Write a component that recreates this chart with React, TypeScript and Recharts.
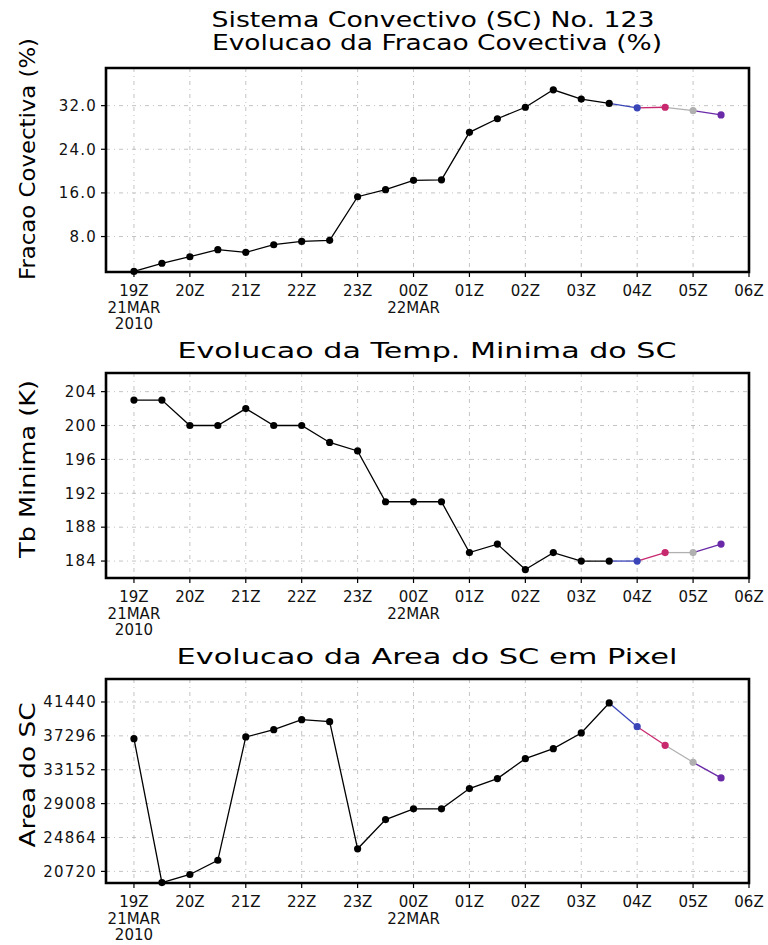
import React from 'react'
import { LineChart, Line, XAxis, YAxis, CartesianGrid, ReferenceArea } from 'recharts'

// horarios (UTC) de 21MAR 19Z ate 22MAR 05:30Z, em horas corridas
const hours = [19, 19.5, 20, 20.5, 21, 21.5, 22, 22.5, 23, 23.5, 24, 24.5, 25, 25.5, 26, 26.5, 27, 27.5, 28, 28.5, 29, 29.5]
const hourTicks = [19, 20, 21, 22, 23, 24, 25, 26, 27, 28, 29, 30]
const hourLabels = ['19Z', '20Z', '21Z', '22Z', '23Z', '00Z', '01Z', '02Z', '03Z', '04Z', '05Z', '06Z']
const dateLabels: Record<number, string[]> = { 19: ['21MAR', '2010'], 24: ['22MAR'] }

// series
const fracao = [1.6, 3.1, 4.3, 5.6, 5.1, 6.5, 7.1, 7.3, 15.3, 16.6, 18.3, 18.4, 27.1, 29.6, 31.7, 34.9, 33.2, 32.4, 31.6, 31.7, 31.1, 30.3]
const tbMinima = [203, 203, 200, 200, 202, 200, 200, 198, 197, 191, 191, 191, 185, 186, 183, 185, 184, 184, 184, 185, 185, 186]
const area = [36950, 19350, 20340, 22080, 37160, 38050, 39280, 39030, 23480, 27060, 28370, 28370, 30850, 32070, 34510, 35730, 37650, 41320, 38420, 36140, 34060, 32150]

// ultimos pontos (previsao) em cores
const FIRST_COLORED = 18
const pointColors = [
  '#000', '#000', '#000', '#000', '#000', '#000', '#000', '#000', '#000', '#000', '#000',
  '#000', '#000', '#000', '#000', '#000', '#000', '#000',
  '#3a45b8', '#c8286e', '#b0b0b0', '#6a2aa8',
]

const fracaoTicks = [8, 16, 24, 32]
const tbTicks = [184, 188, 192, 196, 200, 204]
const areaTicks = [20720, 24864, 29008, 33152, 37296, 41440]

const FONT = 'DejaVu Sans'
const W = 768
const H = 945

function buildRows(values: number[]) {
  return hours.map((h, i) => {
    const row: any = { h, v: values[i] }
    if (i < FIRST_COLORED) row.base = values[i]
    for (let k = FIRST_COLORED; k < hours.length; k++) {
      if (i === k || i === k - 1) row['s' + k] = values[i]
    }
    return row
  })
}

const XTick = ({ x, y, payload }: any) => {
  const i = hourTicks.indexOf(payload.value)
  const lines = [hourLabels[i], ...(dateLabels[payload.value] || [])]
  return (
    <g>
      {lines.map((t, j) => (
        <text key={j} x={x} y={y + 17 + j * 16.5} textAnchor="middle" fontSize={15} fontFamily={FONT} fill="#111">
          {t}
        </text>
      ))}
    </g>
  )
}

interface PanelProps {
  values: number[]
  domain: [number, number]
  ticks: number[]
  fmt: (v: number) => string
  top: number
  bottom: number
}

function Panel({ values, domain, ticks, fmt, top, bottom }: PanelProps) {
  const rows = buildRows(values)
  return (
    <div style={{ position: 'absolute', left: 0, top: 0 }}>
      <LineChart width={W} height={H} data={rows} margin={{ top, right: 19, left: 0, bottom: H - 60 - bottom }}>
        <CartesianGrid stroke="#b4b4b4" strokeDasharray="4 4 1 4" strokeWidth={0.8} />
        <XAxis
          dataKey="h"
          type="number"
          domain={[18.5, 30]}
          ticks={hourTicks}
          height={60}
          axisLine={false}
          tickLine={{ stroke: '#000', strokeWidth: 1.2 }}
          tickSize={5}
          tickMargin={2}
          tick={<XTick />}
          interval={0}
        />
        <YAxis
          type="number"
          domain={domain}
          ticks={ticks}
          width={106}
          axisLine={false}
          tickLine={{ stroke: '#000', strokeWidth: 1.2 }}
          tickSize={5}
          tickMargin={4}
          tickFormatter={fmt}
          tick={{ fontSize: 15, fontFamily: FONT, fill: '#111', letterSpacing: 1.2 }}
          interval={0}
        />
        <ReferenceArea x1={18.5} x2={30} y1={domain[0]} y2={domain[1]} fill="none" stroke="#000" strokeWidth={2.6} />
        <Line dataKey="base" stroke="#000" strokeWidth={1.3} dot={false} activeDot={false} isAnimationActive={false} />
        {hours.slice(FIRST_COLORED).map((_, j) => {
          const k = FIRST_COLORED + j
          return (
            <Line
              key={k}
              dataKey={'s' + k}
              stroke={pointColors[k]}
              strokeWidth={1.3}
              dot={false}
              activeDot={false}
              isAnimationActive={false}
            />
          )
        })}
        <Line
          dataKey="v"
          stroke="none"
          activeDot={false}
          isAnimationActive={false}
          dot={(p: any) => <circle key={p.index} cx={p.cx} cy={p.cy} r={3.6} fill={pointColors[p.index]} />}
        />
      </LineChart>
    </div>
  )
}

const titleStyle = { fontFamily: FONT, fontSize: 21, fill: '#000' }

export default function App() {
  return (
    <div style={{ position: 'absolute', left: 0, top: 0, width: W, height: H, background: '#fff' }}>
      <Panel values={fracao} domain={[1.5, 38.9]} ticks={fracaoTicks} fmt={(v) => v.toFixed(1)} top={68} bottom={272} />
      <Panel values={tbMinima} domain={[182, 206.2]} ticks={tbTicks} fmt={(v) => String(v)} top={373} bottom={578} />
      <Panel values={area} domain={[19300, 44250]} ticks={areaTicks} fmt={(v) => String(v)} top={679} bottom={883} />
      <svg width={W} height={H} style={{ position: 'absolute', left: 0, top: 0, pointerEvents: 'none' }}>
        <text x={433} y={27} textAnchor="middle" textLength={443} lengthAdjust="spacingAndGlyphs" style={titleStyle}>
          Sistema Convectivo (SC) No. 123
        </text>
        <text x={437} y={50} textAnchor="middle" textLength={450} lengthAdjust="spacingAndGlyphs" style={titleStyle}>
          Evolucao da Fracao Covectiva (%)
        </text>
        <text x={427} y={358} textAnchor="middle" textLength={499} lengthAdjust="spacingAndGlyphs" style={titleStyle}>
          Evolucao da Temp. Minima do SC
        </text>
        <text x={427} y={664} textAnchor="middle" textLength={501} lengthAdjust="spacingAndGlyphs" style={titleStyle}>
          Evolucao da Area do SC em Pixel
        </text>
        <text transform="translate(35,159) rotate(-90)" textAnchor="middle" textLength={242} lengthAdjust="spacingAndGlyphs" style={titleStyle}>
          Fracao Covectiva (%)
        </text>
        <text transform="translate(35,469) rotate(-90)" textAnchor="middle" textLength={178} lengthAdjust="spacingAndGlyphs" style={titleStyle}>
          Tb Minima (K)
        </text>
        <text transform="translate(35,775) rotate(-90)" textAnchor="middle" textLength={145} lengthAdjust="spacingAndGlyphs" style={titleStyle}>
          Area do SC
        </text>
      </svg>
    </div>
  )
}
